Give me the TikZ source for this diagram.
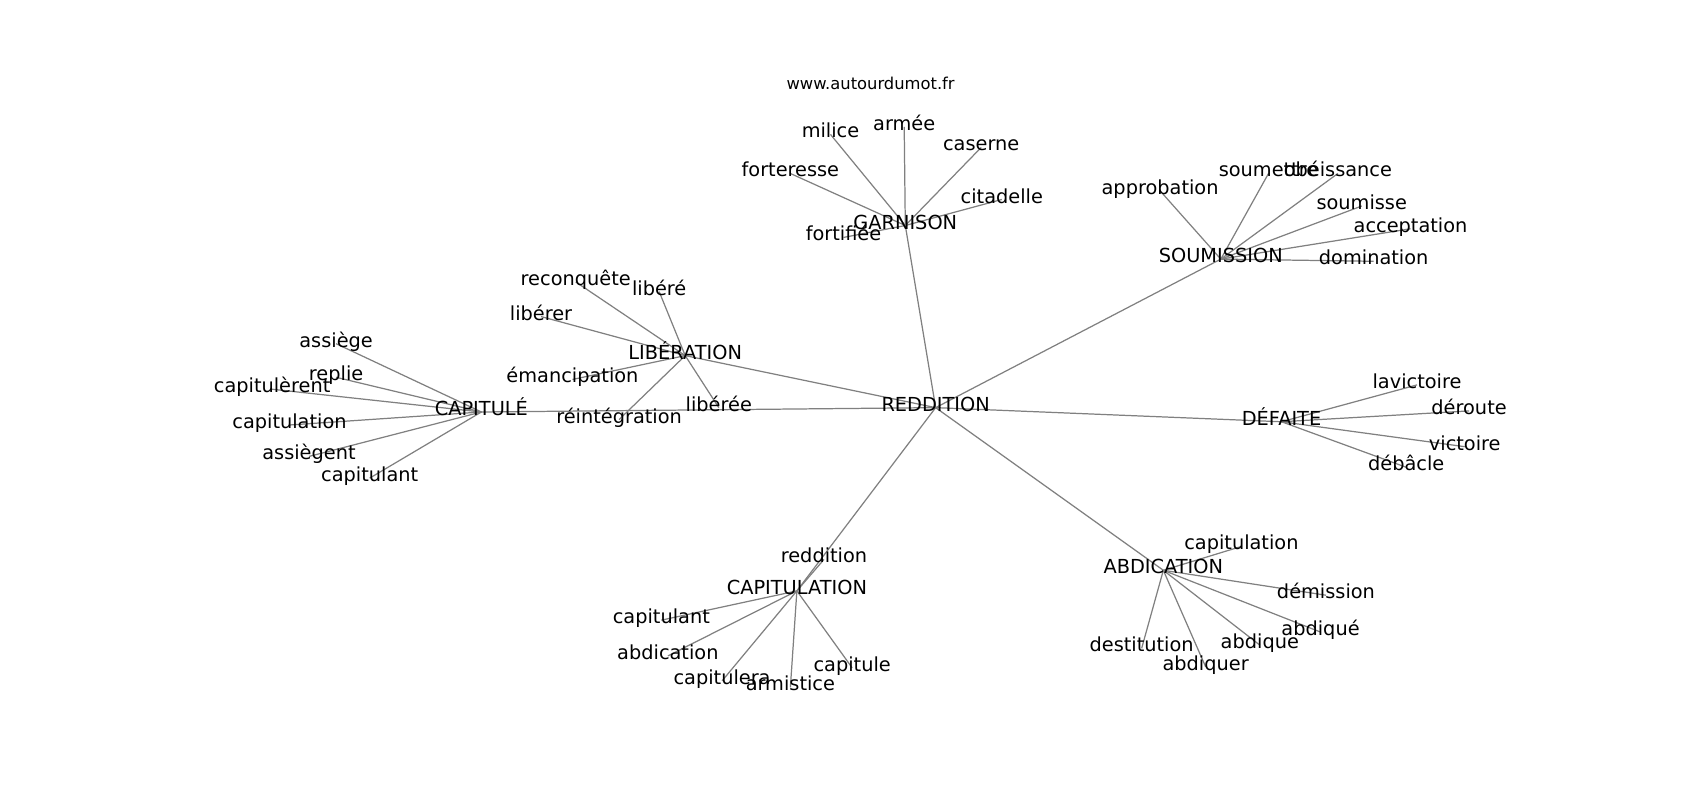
\documentclass[tikz,border=0pt]{standalone}
\usepackage{fontspec}
\setmainfont{DejaVu Sans}
\usetikzlibrary{backgrounds}

\begin{document}
\begin{tikzpicture}[
  x=0.021684cm, y=-0.021684cm,
  word/.style={inner sep=0pt, text height=.76em, text depth=.36em,
               font=\fontsize{11}{13}\selectfont},
  link/.style={draw=gray, line width=0.7pt},
]
  \useasboundingbox (0,0) rectangle (1568,738);
  \node[word, font=\fontsize{9.3}{11}\selectfont] (site) at (803,79) {www.autourdumot.fr};

  % hubs
  \node[word] (reddition) at (863,376) {REDDITION};
  \node[word] (garnison) at (835,208) {GARNISON};
  \node[word] (soumission) at (1126,239) {SOUMISSION};
  \node[word] (defaite) at (1182,389) {DÉFAITE};
  \node[word] (capitule) at (444,380) {CAPITULÉ};
  \node[word] (liberation) at (632,328) {LIBÉRATION};
  \node[word] (capitulation) at (735,545) {CAPITULATION};
  \node[word] (abdication) at (1073,526) {ABDICATION};

  % garnison
  \node[word] (ga-milice) at (766,124) {milice};
  \node[word] (ga-armee) at (834,117) {armée};
  \node[word] (ga-caserne) at (905,136) {caserne};
  \node[word] (ga-forteresse) at (729,160) {forteresse};
  \node[word] (ga-citadelle) at (924,184) {citadelle};
  \node[word] (ga-fortifiee) at (778,219) {fortifiée};

  % soumission
  \node[word] (so-approbation) at (1070,176) {approbation};
  \node[word] (so-soumettre) at (1170,160) {soumettre};
  \node[word] (so-obeissance) at (1234,160) {obéissance};
  \node[word] (so-soumisse) at (1256,190) {soumisse};
  \node[word] (so-acceptation) at (1301,211) {acceptation};
  \node[word] (so-domination) at (1267,241) {domination};

  % defaite
  \node[word] (de-lavictoire) at (1307,355) {lavictoire};
  \node[word] (de-deroute) at (1355,379) {déroute};
  \node[word] (de-victoire) at (1351,412) {victoire};
  \node[word] (de-debacle) at (1297,431) {débâcle};

  % capitule
  \node[word] (ce-assiege) at (310,317) {assiège};
  \node[word] (ce-replie) at (310,348) {replie};
  \node[word] (ce-capitulerent) at (251,359) {capitulèrent};
  \node[word] (ce-capitulation) at (267,392) {capitulation};
  \node[word] (ce-assiegent) at (285,421) {assiègent};
  \node[word] (ce-capitulant) at (341,441) {capitulant};

  % liberation
  \node[word] (li-reconquete) at (531,260) {reconquête};
  \node[word] (li-libere) at (608,269) {libéré};
  \node[word] (li-liberer) at (499,292) {libérer};
  \node[word] (li-emancipation) at (528,350) {émancipation};
  \node[word] (li-reintegration) at (571,387) {réintégration};
  \node[word] (li-liberee) at (663,376) {libérée};

  % capitulation
  \node[word] (cn-reddition) at (760,516) {reddition};
  \node[word] (cn-capitulant) at (610,572) {capitulant};
  \node[word] (cn-abdication) at (616,605) {abdication};
  \node[word] (cn-capitulera) at (666,628) {capitulera};
  \node[word] (cn-armistice) at (729,634) {armistice};
  \node[word] (cn-capitule) at (786,616) {capitule};

  % abdication
  \node[word] (ab-capitulation) at (1145,504) {capitulation};
  \node[word] (ab-demission) at (1223,549) {démission};
  \node[word] (ab-abdiquee) at (1218,583) {abdiqué};
  \node[word] (ab-abdique) at (1162,595) {abdique};
  \node[word] (ab-abdiquer) at (1112,615) {abdiquer};
  \node[word] (ab-destitution) at (1053,598) {destitution};

  \begin{scope}[on background layer]
    \foreach \hub in {garnison,soumission,defaite,capitule,liberation,capitulation,abdication}
      \draw[link] (reddition.center) -- (\hub.center);
    \foreach \leaf in {milice,armee,caserne,forteresse,citadelle,fortifiee}
      \draw[link] (garnison.center) -- (ga-\leaf.center);
    \foreach \leaf in {approbation,soumettre,obeissance,soumisse,acceptation,domination}
      \draw[link] (soumission.center) -- (so-\leaf.center);
    \foreach \leaf in {lavictoire,deroute,victoire,debacle}
      \draw[link] (defaite.center) -- (de-\leaf.center);
    \foreach \leaf in {assiege,replie,capitulerent,capitulation,assiegent,capitulant}
      \draw[link] (capitule.center) -- (ce-\leaf.center);
    \foreach \leaf in {reconquete,libere,liberer,emancipation,reintegration,liberee}
      \draw[link] (liberation.center) -- (li-\leaf.center);
    \foreach \leaf in {reddition,capitulant,abdication,capitulera,armistice,capitule}
      \draw[link] (capitulation.center) -- (cn-\leaf.center);
    \foreach \leaf in {capitulation,demission,abdiquee,abdique,abdiquer,destitution}
      \draw[link] (abdication.center) -- (ab-\leaf.center);
  \end{scope}
\end{tikzpicture}
\end{document}
